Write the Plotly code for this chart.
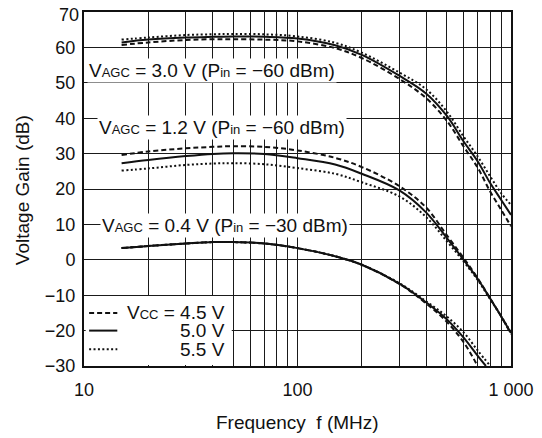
import plotly.graph_objects as go

# ---------------- data ----------------
FREQ = [15, 20, 30, 40, 50, 70, 100, 150, 200, 300, 400, 500, 600, 700, 800, 900, 1000]

# VAGC = 3.0 V (Pin = -60 dBm)
G30_VCC45 = [60.7, 61.4, 62.1, 62.3, 62.3, 62.2, 61.7, 59.8, 57.0, 51.1, 45.7, 39.3, 32.0, 25.9, 19.2, 14.1, 9.5]
G30_VCC50 = [61.4, 62.2, 62.8, 63.0, 63.1, 63.0, 62.5, 60.6, 57.9, 52.0, 47.0, 40.7, 33.4, 27.7, 21.6, 16.9, 12.7]
G30_VCC55 = [62.2, 62.8, 63.5, 63.7, 63.8, 63.7, 63.1, 61.3, 58.5, 52.9, 48.2, 41.9, 34.8, 29.1, 23.5, 18.8, 15.5]

# VAGC = 1.2 V (Pin = -60 dBm)
G12_VCC45 = [29.6, 30.6, 31.5, 31.9, 32.1, 31.9, 30.9, 28.8, 26.2, 20.8, 14.8, 7.0, 0.5, -5.3, -11.0, -16.0, -21.0]
G12_VCC50 = [27.3, 28.2, 29.3, 29.9, 30.1, 29.9, 28.7, 26.9, 24.3, 19.6, 13.4, 6.2, 0.0, -5.5, -11.0, -16.0, -20.7]
G12_VCC55 = [25.2, 25.8, 26.8, 27.2, 27.3, 27.0, 25.9, 24.3, 21.9, 17.9, 12.1, 5.3, -0.5, -5.8, -11.2, -16.0, -20.5]

# VAGC = 0.4 V (Pin = -30 dBm)
F04_VCC45 = [15, 20, 30, 40, 50, 70, 100, 150, 200, 300, 400, 500, 600, 698]
G04_VCC45 = [3.3, 3.9, 4.6, 5.0, 5.0, 4.6, 3.3, 1.0, -1.4, -6.8, -12.3, -17.5, -23.3, -30.0]
F04_VCC50 = [15, 20, 30, 40, 50, 70, 100, 150, 200, 300, 400, 500, 600, 700, 763]
G04_VCC50 = [3.3, 3.9, 4.6, 5.0, 5.0, 4.6, 3.3, 1.0, -1.4, -6.7, -12.0, -16.8, -22.0, -27.2, -30.0]
F04_VCC55 = [15, 20, 30, 40, 50, 70, 100, 150, 200, 300, 400, 500, 600, 700, 800]
G04_VCC55 = [3.3, 3.9, 4.6, 5.0, 5.0, 4.6, 3.3, 1.0, -1.4, -6.6, -11.7, -16.0, -20.5, -25.7, -30.0]

X_TICKVALS = [10, 20, 30, 40, 50, 60, 70, 80, 90, 100, 200, 300, 400, 500, 600, 700, 800, 900, 1000]
X_TICKTEXT = ["10", "", "", "", "", "", "", "", "", "100", "", "", "", "", "", "", "", "", "1 000"]
Y_TICKVALS = [70, 60, 50, 40, 30, 20, 10, 0, -10, -20, -30]
Y_TICKTEXT = ["70", "60", "50", "40", "30", "20", "10", "0", "\u221210", "\u221220", "\u221230"]

LABEL_30 = "V<span style='font-size:13px'>AGC</span> = 3.0 V (P<span style='font-size:13px'>in</span> = \u221260 dBm)"
LABEL_12 = "V<span style='font-size:13px'>AGC</span> = 1.2 V (P<span style='font-size:13px'>in</span> = \u221260 dBm)"
LABEL_04 = "V<span style='font-size:13px'>AGC</span> = 0.4 V (P<span style='font-size:13px'>in</span> = \u221230 dBm)"
LEG_TEXT = ["V<span style='font-size:13px'>CC</span> = 4.5 V", "5.0 V", "5.5 V"]

# ---------------- figure ----------------
FONT = "Liberation Sans, Arial, Helvetica, sans-serif"
INK = "#111111"
DASH = {"4.5": "5px,3px", "5.0": "solid", "5.5": "2px,2.4px"}

fig = go.Figure()

series = [
    (FREQ, G30_VCC45, "4.5"), (FREQ, G30_VCC50, "5.0"), (FREQ, G30_VCC55, "5.5"),
    (FREQ, G12_VCC45, "4.5"), (FREQ, G12_VCC50, "5.0"), (FREQ, G12_VCC55, "5.5"),
    (F04_VCC45, G04_VCC45, "4.5"), (F04_VCC50, G04_VCC50, "5.0"), (F04_VCC55, G04_VCC55, "5.5"),
]
for fx, gy, v in series:
    fig.add_trace(go.Scatter(
        x=fx, y=gy, mode="lines",
        line=dict(color=INK, width=2, dash=DASH[v], shape="spline", smoothing=1.0),
        showlegend=False, hoverinfo="skip",
    ))

# white area behind the in-plot key (covers grid)
fig.add_shape(type="rect", xref="x domain", yref="y",
              x0=0.004, x1=0.346, y0=-29.75, y1=-10.25,
              fillcolor="white", line=dict(width=0), layer="above")

# key line samples
for yv, v in zip([-15.0, -20.0, -25.3], ["4.5", "5.0", "5.5"]):
    fig.add_shape(type="line", xref="x domain", yref="y",
                  x0=0.012, x1=0.078, y0=yv, y1=yv,
                  line=dict(color=INK, width=2, dash=DASH[v]), layer="above")

for yv, t in zip([-15.0, -20.0, -25.3], LEG_TEXT):
    fig.add_annotation(xref="x domain", yref="y", x=0.334, y=yv, text=t,
                       showarrow=False, xanchor="right", yanchor="middle",
                       font=dict(size=19, color=INK, family=FONT))

# curve labels (white background breaks the grid)
for xd, yv, t in [(0.007, 53.6, LABEL_30), (0.030, 37.4, LABEL_12), (0.037, 9.8, LABEL_04)]:
    fig.add_annotation(xref="x domain", yref="y", x=xd, y=yv, text=t,
                       showarrow=False, xanchor="left", yanchor="middle",
                       bgcolor="white", borderpad=1,
                       font=dict(size=19, color=INK, family=FONT))

# the top y label sits right at the page edge: draw it a few px lower so it is not clipped
fig.add_annotation(xref="paper", yref="y", x=0, y=Y_TICKVALS[0], text=Y_TICKTEXT[0],
                   showarrow=False, xanchor="right", yanchor="middle",
                   xshift=-3, yshift=-3,
                   font=dict(size=18, color=INK, family=FONT))
Y_TICKTEXT_SHOWN = [""] + Y_TICKTEXT[1:]

# axis titles
fig.add_annotation(xref="paper", yref="paper", x=0.5, y=-0.161, text="Frequency  f (MHz)",
                   showarrow=False, xanchor="center", yanchor="middle",
                   font=dict(size=19, color=INK, family=FONT))
fig.add_annotation(xref="paper", yref="paper", x=-0.145, y=0.497, text="Voltage Gain (dB)",
                   textangle=-90, showarrow=False, xanchor="center", yanchor="middle",
                   font=dict(size=19, color=INK, family=FONT))

fig.update_xaxes(type="log", range=[1, 3], tickvals=X_TICKVALS, ticktext=X_TICKTEXT,
                 showgrid=True, gridcolor="#1a1a1a", gridwidth=1,
                 showline=True, linecolor=INK, linewidth=2, mirror=True,
                 ticks="", ticklabelstandoff=6, zeroline=False,
                 ticklabeloverflow="allow",
                 tickfont=dict(size=18, color=INK, family=FONT))
fig.update_yaxes(range=[-30, 70], tickvals=Y_TICKVALS, ticktext=Y_TICKTEXT_SHOWN,
                 showgrid=True, gridcolor="#1a1a1a", gridwidth=1,
                 showline=True, linecolor=INK, linewidth=2, mirror=True,
                 ticks="", ticklabelstandoff=3, zeroline=False,
                 ticklabeloverflow="allow",
                 tickfont=dict(size=18, color=INK, family=FONT))

# the page body adds an 8 px margin, so the figure is 8 px smaller each way
fig.update_layout(width=534, height=430,
                  margin=dict(l=76, r=31, t=4, b=72, autoexpand=False),
                  paper_bgcolor="white", plot_bgcolor="white",
                  font=dict(family=FONT, color=INK), showlegend=False)

fig.write_html("out.html")
